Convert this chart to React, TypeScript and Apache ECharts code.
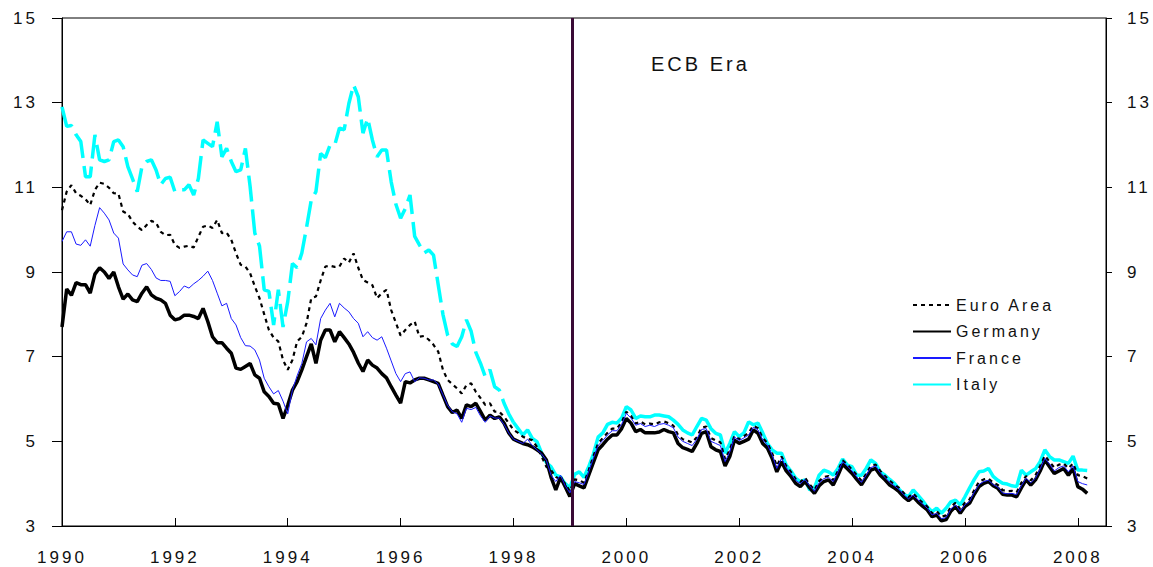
import React, { useEffect, useRef } from "react";
import * as echarts from "echarts";

// Monthly observations starting January 1990 (index 0) through March 2008.
const START_YEAR = 1990;
const ECB_START = 1999.04;
const ITALY_SOLID_FROM = 96; // Italy drawn dashed before Jan 1998, solid afterwards
const X_MIN = 1990;
const X_MAX = 2008.5;
const Y_MIN = 3;
const Y_MAX = 15;
const ANNOTATION = "ECB Era";
const LEGEND_ORDER = ["Euro Area", "Germany", "France", "Italy"];

const GERMANY = [
  7.7, 8.6, 8.45, 8.75, 8.7, 8.7, 8.5, 8.95, 9.1, 9.0, 8.85, 9.0,
  8.65, 8.36, 8.48, 8.34, 8.3, 8.5, 8.65, 8.46, 8.38, 8.34, 8.26, 7.98,
  7.87, 7.9, 7.98, 7.98, 7.95, 7.9, 8.14, 7.83, 7.47, 7.33, 7.33, 7.2,
  7.08, 6.73, 6.7, 6.77, 6.84, 6.57, 6.49, 6.17, 6.06, 5.9, 5.88, 5.54,
  5.85, 6.21, 6.41, 6.69, 7.0, 7.3, 6.84, 7.39, 7.63, 7.63, 7.35, 7.59,
  7.45, 7.3, 7.1, 6.85, 6.65, 6.92, 6.8, 6.73, 6.6, 6.5, 6.29, 6.09,
  5.9, 6.41, 6.38, 6.45, 6.49, 6.49, 6.45, 6.41, 6.37, 6.09, 5.82, 5.68,
  5.74, 5.54, 5.86, 5.82, 5.9, 5.7, 5.5, 5.62, 5.54, 5.58, 5.43, 5.2,
  5.05, 5.0, 4.95, 4.92, 4.87, 4.8, 4.72, 4.56, 4.15, 3.85, 4.15, 3.93,
  3.7, 4.0, 3.95, 3.9, 4.2, 4.5, 4.8, 4.92, 5.05, 5.15, 5.15, 5.3,
  5.54, 5.43, 5.23, 5.28, 5.2, 5.2, 5.2, 5.22, 5.28, 5.23, 5.2, 4.95,
  4.85, 4.81, 4.76, 4.95, 5.19, 5.23, 4.87, 4.8, 4.76, 4.42, 4.64, 5.03,
  4.95, 5.0, 5.05, 5.27, 5.19, 4.95, 4.84, 4.6, 4.28, 4.52, 4.3, 4.17,
  4.01, 3.93, 4.05, 3.9, 3.77, 3.95, 4.05, 4.09, 3.97, 4.2, 4.46, 4.35,
  4.24, 4.1, 3.97, 4.15, 4.32, 4.36, 4.2, 4.09, 3.97, 3.9, 3.81, 3.69,
  3.6, 3.69, 3.57, 3.47, 3.38, 3.22, 3.26, 3.12, 3.15, 3.35, 3.46, 3.3,
  3.46, 3.54, 3.75, 3.93, 4.01, 4.05, 3.95, 3.89, 3.75, 3.73, 3.73, 3.69,
  3.9, 4.09, 3.97, 4.09, 4.3, 4.56, 4.4, 4.24, 4.3, 4.36, 4.2, 4.36,
  3.93, 3.87, 3.77,
];

const FRANCE = [
  9.72, 9.95, 9.95, 9.66, 9.63, 9.76, 9.61, 10.1, 10.52, 10.39, 10.23, 9.92,
  9.8, 9.19, 9.05, 8.93, 8.89, 9.16, 9.2, 9.06, 8.86, 8.8, 8.8, 8.78,
  8.44, 8.54, 8.67, 8.62, 8.72, 8.8, 8.9, 9.02, 8.8, 8.5, 8.2, 8.26,
  7.9, 7.75, 7.45, 7.26, 7.25, 7.16, 6.92, 6.49, 6.29, 6.12, 6.2, 5.95,
  5.65, 6.21, 6.55, 6.84, 7.35, 7.43, 7.28, 7.9, 8.1, 8.26, 7.94, 8.26,
  8.15, 8.06, 7.9, 7.79, 7.47, 7.59, 7.45, 7.39, 7.47, 7.2, 6.9, 6.6,
  6.41, 6.6, 6.64, 6.41, 6.5, 6.49, 6.45, 6.45, 6.35, 6.1, 5.85, 5.7,
  5.65, 5.45, 5.78, 5.75, 5.8, 5.6, 5.45, 5.6, 5.55, 5.55, 5.4, 5.2,
  5.05, 5.0, 4.95, 5.05, 4.9, 4.8, 4.7, 4.55, 4.2, 4.05, 4.2, 3.95,
  3.78, 4.05, 4.02, 3.98, 4.28, 4.6, 4.9, 5.02, 5.15, 5.25, 5.25, 5.4,
  5.66, 5.55, 5.38, 5.42, 5.35, 5.38, 5.35, 5.4, 5.42, 5.38, 5.32, 5.1,
  5.0, 4.95, 4.9, 5.05, 5.28, 5.3, 5.0, 4.95, 4.9, 4.52, 4.75, 5.1,
  5.02, 5.08, 5.15, 5.33, 5.27, 5.03, 4.92, 4.68, 4.36, 4.6, 4.38, 4.24,
  4.08, 4.0, 4.1, 3.95, 3.82, 4.02, 4.12, 4.15, 4.05, 4.27, 4.52, 4.42,
  4.3, 4.16, 4.03, 4.2, 4.38, 4.42, 4.26, 4.15, 4.03, 3.95, 3.86, 3.74,
  3.64, 3.73, 3.62, 3.52, 3.42, 3.26, 3.3, 3.17, 3.2, 3.4, 3.5, 3.35,
  3.5, 3.58, 3.8, 3.98, 4.05, 4.08, 3.98, 3.92, 3.78, 3.76, 3.77, 3.74,
  3.95, 4.13, 4.02, 4.13, 4.35, 4.6, 4.46, 4.3, 4.38, 4.42, 4.28, 4.42,
  4.05, 4.0, 3.97,
];

const EURO_AREA = [
  10.46, 10.9, 11.05, 10.86, 10.8, 10.72, 10.58, 10.94, 11.11, 11.08, 10.99, 10.86,
  10.85, 10.43, 10.37, 10.19, 10.07, 9.99, 10.11, 10.21, 10.16, 9.95, 9.87, 9.88,
  9.64, 9.57, 9.6, 9.62, 9.58, 9.83, 10.07, 10.1, 10.04, 10.23, 9.92, 9.93,
  9.76, 9.44, 9.17, 9.13, 8.97, 8.66, 8.38, 8.0, 7.63, 7.45, 7.36, 6.92,
  6.69, 6.92, 7.36, 7.47, 7.79, 8.38, 8.42, 8.8, 9.13, 9.15, 9.12, 9.13,
  9.32, 9.22, 9.44, 9.1, 8.81, 8.75, 8.69, 8.38, 8.5, 8.58, 8.1, 7.8,
  7.5, 7.63, 7.75, 7.83, 7.47, 7.49, 7.4, 7.28, 7.12, 6.69, 6.45, 6.35,
  6.25, 6.13, 6.33, 6.37, 6.17, 6.02, 5.86, 5.9, 5.7, 5.7, 5.58, 5.43,
  5.27, 5.2, 5.11, 5.06, 5.03, 4.87, 4.64, 4.4, 4.32, 4.16, 4.1, 4.0,
  3.82, 4.1, 4.08, 4.02, 4.32, 4.65, 4.95, 5.08, 5.2, 5.3, 5.3, 5.45,
  5.7, 5.6, 5.42, 5.47, 5.4, 5.42, 5.4, 5.45, 5.47, 5.43, 5.37, 5.15,
  5.05, 5.02, 4.97, 5.1, 5.32, 5.35, 5.08, 5.02, 4.98, 4.58, 4.8, 5.13,
  5.05, 5.12, 5.2, 5.37, 5.31, 5.08, 4.96, 4.72, 4.42, 4.64, 4.42, 4.28,
  4.11, 4.04, 4.14, 3.98, 3.85, 4.06, 4.16, 4.18, 4.08, 4.3, 4.55, 4.45,
  4.33, 4.2, 4.07, 4.23, 4.42, 4.45, 4.3, 4.18, 4.07, 3.98, 3.9, 3.78,
  3.68, 3.77, 3.65, 3.55, 3.46, 3.3, 3.35, 3.22, 3.25, 3.45, 3.55, 3.4,
  3.55, 3.63, 3.85, 4.05, 4.1, 4.12, 4.03, 3.97, 3.85, 3.82, 3.83, 3.8,
  4.02, 4.18, 4.08, 4.2, 4.42, 4.66, 4.52, 4.38, 4.45, 4.48, 4.36, 4.48,
  4.2, 4.18, 4.12,
];

const ITALY = [
  12.9, 12.44, 12.46, 12.24, 12.08, 11.25, 11.25, 12.24, 11.65, 11.61, 11.65, 12.08,
  12.12, 11.96, 11.49, 11.2, 10.9, 11.49, 11.61, 11.65, 11.41, 11.06, 11.21, 11.24,
  10.9, 10.94, 10.94, 11.06, 10.82, 11.21, 12.12, 12.04, 11.96, 12.55, 11.72, 11.92,
  11.61, 11.37, 11.41, 11.92, 11.02, 9.92, 9.61, 8.58, 8.54, 7.75, 8.58, 7.7,
  8.3, 9.2, 9.1, 9.45, 10.05, 10.7, 10.9, 11.8, 11.7, 12.0, 12.0, 12.4,
  12.36, 12.98, 13.42, 13.14, 12.28, 12.63, 12.12, 11.72, 11.88, 11.88, 11.13, 10.6,
  10.27, 10.5, 10.82, 9.84, 9.64, 9.45, 9.52, 9.4, 8.7, 8.0, 7.51, 7.3,
  7.24, 7.47, 7.87, 7.6, 7.1, 6.84, 6.53, 6.69, 6.29, 6.21, 5.9, 5.65,
  5.45, 5.3, 5.15, 5.27, 5.07, 4.99, 4.72, 4.5, 4.4, 4.2, 4.16, 4.0,
  3.9, 4.22, 4.28, 4.15, 4.4, 4.7, 5.1, 5.2, 5.4, 5.45, 5.43, 5.55,
  5.82, 5.74, 5.54, 5.6, 5.58, 5.58, 5.62, 5.62, 5.6, 5.58, 5.5, 5.4,
  5.27, 5.2, 5.15, 5.35, 5.54, 5.5, 5.3, 5.19, 5.15, 4.72, 4.95, 5.23,
  5.11, 5.2, 5.46, 5.39, 5.43, 5.2, 4.95, 4.8, 4.72, 4.72, 4.44, 4.3,
  4.13, 4.05, 4.09, 3.85, 3.9, 4.2, 4.32, 4.28, 4.2, 4.36, 4.58, 4.44,
  4.4, 4.2, 4.2, 4.36, 4.56, 4.48, 4.28, 4.2, 4.1, 4.01, 3.87, 3.75,
  3.69, 3.85, 3.73, 3.6, 3.45, 3.34, 3.42, 3.3, 3.42, 3.57, 3.61, 3.5,
  3.69, 3.9, 4.1, 4.28, 4.3, 4.36, 4.17, 4.08, 4.01, 3.99, 3.95, 3.93,
  4.32, 4.2, 4.28, 4.35, 4.52, 4.8, 4.64, 4.56, 4.56, 4.52, 4.48, 4.65,
  4.32, 4.32, 4.31,
];

const toPoints = (vals: number[], from = 0, to = vals.length) =>
  vals.slice(from, to).map((v, i) => [START_YEAR + (from + i) / 12, v]);

const FONT = "'Liberation Sans', Arial, sans-serif";

export default function App() {
  const ref = useRef<HTMLDivElement>(null);

  useEffect(() => {
    if (!ref.current) return;
    const chart = echarts.init(ref.current, undefined, { renderer: "svg" });
    const axisText = { color: "#111", fontSize: 17, fontFamily: FONT };
    chart.setOption({
      animation: false,
      backgroundColor: "#fff",
      grid: {
        left: 62,
        right: 47,
        top: 18,
        bottom: 41,
        show: true,
        borderColor: "#000",
        borderWidth: 1,
        backgroundColor: "transparent",
      },
      legend: {
        data: LEGEND_ORDER,
        orient: "vertical",
        left: 912,
        top: 297,
        padding: 0,
        itemWidth: 38,
        itemHeight: 14,
        itemGap: 10.5,
        selectedMode: false,
        itemStyle: { opacity: 0, borderWidth: 0 },
        textStyle: { color: "#111", fontSize: 16, fontFamily: FONT },
      },
      xAxis: {
        type: "value",
        min: X_MIN,
        max: X_MAX,
        interval: 2,
        axisLine: { show: true, lineStyle: { color: "#000", width: 1 } },
        axisTick: { show: true, inside: true, length: 8, lineStyle: { color: "#000" } },
        axisLabel: {
          ...axisText,
          margin: 23,
          showMaxLabel: false,
          formatter: (v: number) => (Math.abs(v % 2) < 1e-9 ? String(v) : ""),
        },
        splitLine: { show: false },
      },
      yAxis: [
        {
          type: "value",
          position: "left",
          min: Y_MIN,
          max: Y_MAX,
          interval: 2,
          axisLine: { show: true, lineStyle: { color: "#000", width: 1 } },
          axisTick: { show: true, inside: false, length: 10, lineStyle: { color: "#000" } },
          axisLabel: { ...axisText, margin: 24 },
          splitLine: { show: false },
        },
        {
          type: "value",
          position: "right",
          min: Y_MIN,
          max: Y_MAX,
          interval: 2,
          axisLine: { show: true, lineStyle: { color: "#000", width: 1 } },
          axisTick: { show: true, inside: false, length: 6, lineStyle: { color: "#000" } },
          axisLabel: { ...axisText, margin: 21 },
          splitLine: { show: false },
        },
      ],
      graphic: [
        {
          type: "text",
          left: 651,
          top: 54,
          style: {
            text: ANNOTATION,
            fill: "#111",
            fontSize: 20,
            fontFamily: FONT,
          },
        },
      ],
      series: [
        {
          name: "Italy",
          type: "line",
          data: toPoints(ITALY, ITALY_SOLID_FROM),
          symbol: "none",
          lineStyle: { color: "#00FFFF", width: 3.5 },
          itemStyle: { color: "#00FFFF" },
        },
        {
          name: "Italy",
          type: "line",
          data: toPoints(ITALY, 0, ITALY_SOLID_FROM + 1),
          symbol: "none",
          lineStyle: { color: "#00FFFF", width: 3.5, type: [26, 8] },
          itemStyle: { color: "#00FFFF" },
        },
        {
          name: "Euro Area",
          type: "line",
          data: toPoints(EURO_AREA),
          symbol: "none",
          lineStyle: { color: "#000", width: 2.2, type: [4, 4] },
          itemStyle: { color: "#000" },
        },
        {
          name: "Germany",
          type: "line",
          data: toPoints(GERMANY),
          symbol: "none",
          lineStyle: { color: "#000", width: 3.5 },
          itemStyle: { color: "#000" },
          markLine: {
            silent: true,
            symbol: "none",
            label: { show: false },
            lineStyle: { color: "#3a0a36", width: 3, type: "solid" },
            data: [{ xAxis: ECB_START }],
          },
        },
        {
          name: "France",
          type: "line",
          data: toPoints(FRANCE),
          symbol: "none",
          lineStyle: { color: "#1a1aff", width: 1 },
          itemStyle: { color: "#1a1aff" },
        },
      ],
    });
    return () => chart.dispose();
  }, []);

  return (
    <>
      <style>{`.ecb-chart text { letter-spacing: 3px; }`}</style>
      <div
        ref={ref}
        className="ecb-chart"
        style={{ position: "absolute", left: 0, top: 0, width: 1153, height: 567, background: "#fff" }}
      />
    </>
  );
}
